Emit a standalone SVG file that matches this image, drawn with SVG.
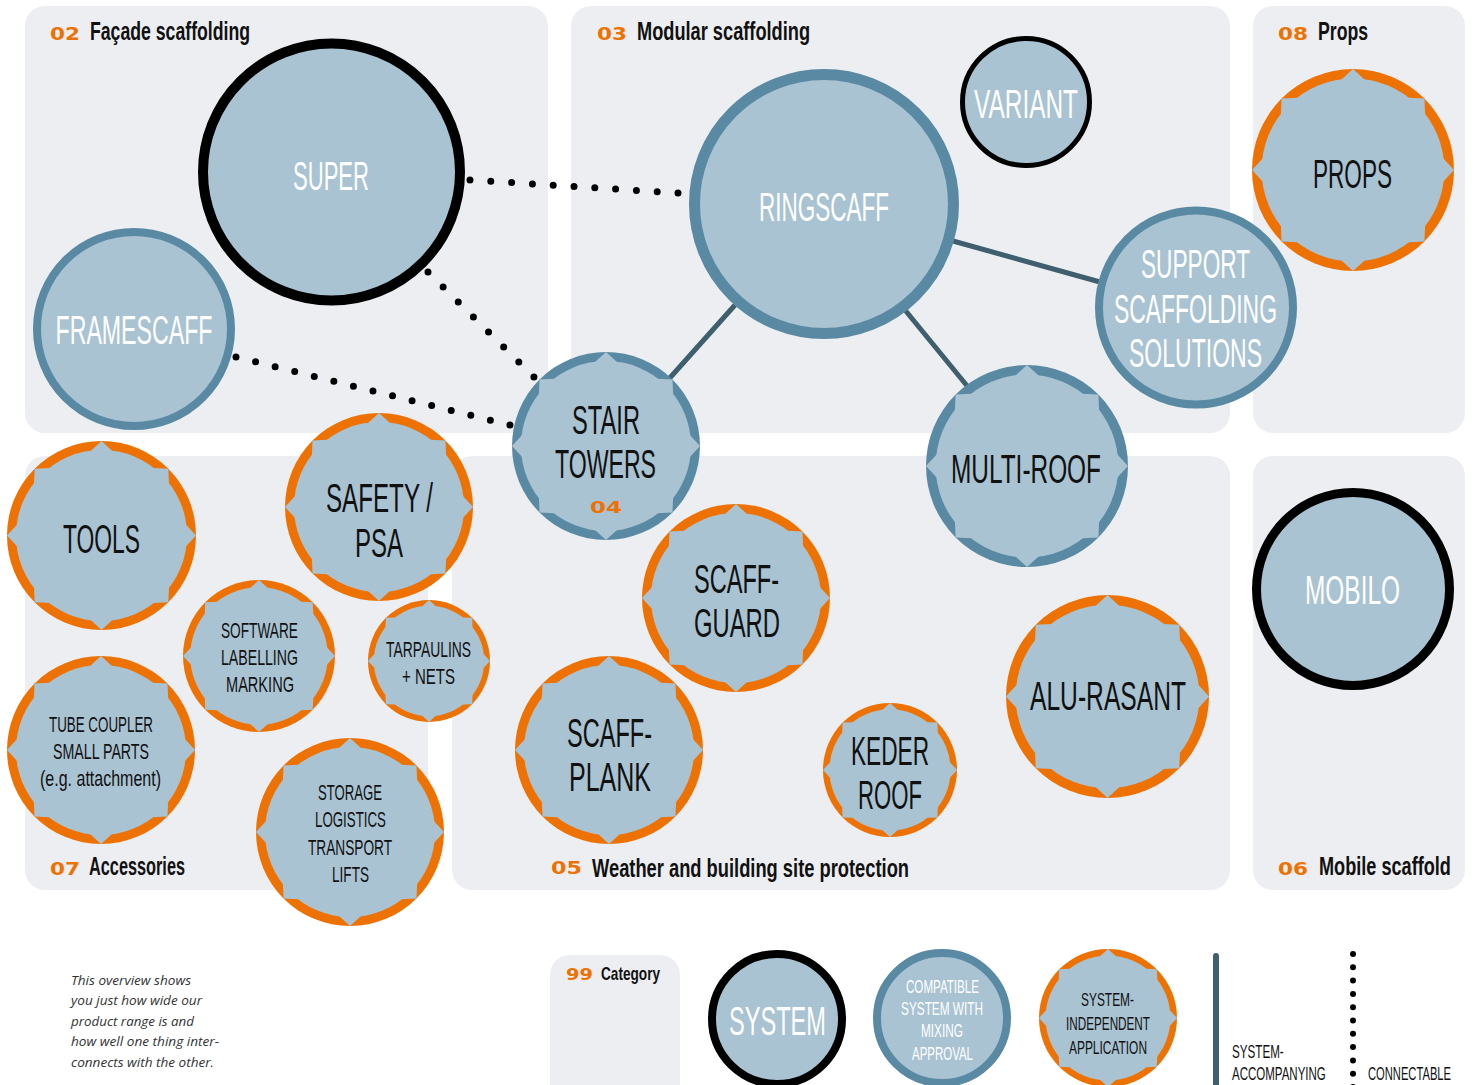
<svg xmlns="http://www.w3.org/2000/svg" xmlns:xlink="http://www.w3.org/1999/xlink" width="1475" height="1085" viewBox="0 0 1475 1085">
<style>
.panel{fill:#edeef2}
.f{fill:#a9c3d3}
.rb{fill:#a9c3d3;stroke:#5a8aa3}
.rk{fill:#a9c3d3;stroke:#000}
.t{font-family:'Liberation Sans Narrow','Liberation Sans',sans-serif;text-anchor:middle}
.w{fill:#fff}
.k{fill:#111}
.L{font-size:40px}
.M{font-size:22px}
.S{font-size:19px}
.num{font-family:'DejaVu Sans',sans-serif;font-weight:bold;fill:#ee7203;font-size:17px}
.hd{font-family:'Liberation Sans Narrow','Liberation Sans',sans-serif;font-weight:bold;fill:#111;font-size:25px}
.lg{font-family:'Liberation Sans Narrow','Liberation Sans',sans-serif;font-size:18px;fill:#111}
.dot{fill:none;stroke:#000;stroke-width:7;stroke-linecap:round}
.sol{stroke:#3f5e6e;stroke-width:5;fill:none}
</style>
<defs>
<symbol id="nO" viewBox="-100 -100 200 200" overflow="visible">
<circle r="100" fill="#ee7203"/>
<circle r="90.5" fill="#a9c3d3"/>
<g fill="#a9c3d3">
<polygon points="0,-100 -12,-89 12,-89"/>
<polygon points="0,-100 -12,-89 12,-89" transform="rotate(45)"/>
<polygon points="0,-100 -12,-89 12,-89" transform="rotate(90)"/>
<polygon points="0,-100 -12,-89 12,-89" transform="rotate(135)"/>
<polygon points="0,-100 -12,-89 12,-89" transform="rotate(180)"/>
<polygon points="0,-100 -12,-89 12,-89" transform="rotate(225)"/>
<polygon points="0,-100 -12,-89 12,-89" transform="rotate(270)"/>
<polygon points="0,-100 -12,-89 12,-89" transform="rotate(315)"/>
</g>
</symbol>
<symbol id="nB" viewBox="-100 -100 200 200" overflow="visible">
<circle r="100" fill="#5a8aa3"/>
<circle r="90.5" fill="#a9c3d3"/>
<g fill="#a9c3d3">
<polygon points="0,-100 -12,-89 12,-89"/>
<polygon points="0,-100 -12,-89 12,-89" transform="rotate(45)"/>
<polygon points="0,-100 -12,-89 12,-89" transform="rotate(90)"/>
<polygon points="0,-100 -12,-89 12,-89" transform="rotate(135)"/>
<polygon points="0,-100 -12,-89 12,-89" transform="rotate(180)"/>
<polygon points="0,-100 -12,-89 12,-89" transform="rotate(225)"/>
<polygon points="0,-100 -12,-89 12,-89" transform="rotate(270)"/>
<polygon points="0,-100 -12,-89 12,-89" transform="rotate(315)"/>
</g>
</symbol>
</defs>
<rect width="1475" height="1085" fill="#fff"/>

<g id="panels">
<rect class="panel" x="25" y="6" width="523" height="427" rx="20"/>
<rect class="panel" x="571" y="6" width="659" height="427" rx="20"/>
<rect class="panel" x="1253" y="6" width="212" height="427" rx="20"/>
<rect class="panel" x="25" y="456" width="403" height="434" rx="20"/>
<rect class="panel" x="452" y="456" width="778" height="434" rx="20"/>
<rect class="panel" x="1253" y="456" width="212" height="434" rx="20"/>
<rect class="panel" x="550" y="955" width="130" height="150" rx="20"/>
</g>

<g id="headers">
<text class="num" x="50" y="40" textLength="30" lengthAdjust="spacingAndGlyphs">02</text>
<text class="hd" x="90" y="40" textLength="160" lengthAdjust="spacingAndGlyphs">Façade scaffolding</text>
<text class="num" x="597" y="40" textLength="30" lengthAdjust="spacingAndGlyphs">03</text>
<text class="hd" x="637" y="40" textLength="173" lengthAdjust="spacingAndGlyphs">Modular scaffolding</text>
<text class="num" x="1278" y="40" textLength="30" lengthAdjust="spacingAndGlyphs">08</text>
<text class="hd" x="1318" y="40" textLength="50" lengthAdjust="spacingAndGlyphs">Props</text>
<text class="num" x="50" y="875" textLength="30" lengthAdjust="spacingAndGlyphs">07</text>
<text class="hd" x="89" y="875" textLength="96" lengthAdjust="spacingAndGlyphs">Accessories</text>
<text class="num" x="551" y="874" textLength="31" lengthAdjust="spacingAndGlyphs">05</text>
<text class="hd" x="592" y="877" textLength="317" lengthAdjust="spacingAndGlyphs">Weather and building site protection</text>
<text class="num" x="1278" y="875" textLength="30" lengthAdjust="spacingAndGlyphs">06</text>
<text class="hd" transform="translate(1319,875) scale(0.725,1)" x="0" y="0" textLength="182" lengthAdjust="spacingAndGlyphs">Mobile scaffold</text>
<text class="num" x="566" y="980" textLength="27" lengthAdjust="spacingAndGlyphs" style="font-size:15px">99</text>
<text class="hd" x="601" y="980" textLength="59" lengthAdjust="spacingAndGlyphs" style="font-size:19px">Category</text>
</g>

<g id="connectors">
<line class="dot" x1="470" y1="180" x2="678" y2="193" stroke-dasharray="0 20.84"/>
<line class="dot" x1="428" y1="272" x2="534" y2="377" stroke-dasharray="0 21.3"/>
<line class="dot" x1="236" y1="357" x2="510" y2="425" stroke-dasharray="0 20.16"/>
<line class="sol" x1="735" y1="305" x2="668" y2="380"/>
<line class="sol" x1="905" y1="310" x2="968" y2="387"/>
<line class="sol" x1="953" y1="241" x2="1100" y2="282"/>
</g>

<g id="node-super">
<circle class="rk" cx="331.5" cy="172" r="128.5" stroke-width="10"/>
<text class="t w L" x="331" y="190" textLength="76" lengthAdjust="spacingAndGlyphs">SUPER</text>
</g>
<g id="node-framescaff">
<circle class="rb" cx="134" cy="329" r="97" stroke-width="8"/>
<text class="t w L" x="134" y="344" textLength="157" lengthAdjust="spacingAndGlyphs">FRAMESCAFF</text>
</g>
<g id="node-ringscaff">
<circle class="rb" cx="824" cy="204" r="129.5" stroke-width="11"/>
<text class="t w L" x="824" y="221" textLength="130" lengthAdjust="spacingAndGlyphs">RINGSCAFF</text>
</g>
<g id="node-variant">
<circle class="rk" cx="1026" cy="102" r="63.5" stroke-width="5"/>
<text class="t w L" x="1026" y="118" textLength="104" lengthAdjust="spacingAndGlyphs">VARIANT</text>
</g>
<g id="node-support">
<circle class="rb" cx="1196" cy="307.5" r="97" stroke-width="8"/>
<text class="t w L" x="1195.5" y="278" textLength="109" lengthAdjust="spacingAndGlyphs">SUPPORT</text>
<text class="t w L" x="1195.5" y="323" textLength="163" lengthAdjust="spacingAndGlyphs">SCAFFOLDING</text>
<text class="t w L" x="1195.5" y="367" textLength="133" lengthAdjust="spacingAndGlyphs">SOLUTIONS</text>
</g>
<g id="node-props">
<use href="#nO" x="1252" y="69" width="202" height="202"/>
<text class="t k L" x="1352.5" y="188" textLength="79" lengthAdjust="spacingAndGlyphs">PROPS</text>
</g>
<g id="node-stairtowers">
<use href="#nB" x="512" y="352" width="188" height="188"/>
<text class="t k L" x="606" y="434" textLength="68" lengthAdjust="spacingAndGlyphs">STAIR</text>
<text class="t k L" x="605.5" y="478" textLength="101" lengthAdjust="spacingAndGlyphs">TOWERS</text>
<text class="num" x="590" y="513" textLength="32" lengthAdjust="spacingAndGlyphs" style="font-size:16px">04</text>
</g>
<g id="node-multiroof">
<use href="#nB" x="926" y="365" width="202" height="202"/>
<text class="t k L" x="1026" y="483" textLength="150" lengthAdjust="spacingAndGlyphs">MULTI-ROOF</text>
</g>
<g id="node-tools">
<use href="#nO" x="7" y="441" width="189" height="189"/>
<text class="t k L" x="101.5" y="553" textLength="77" lengthAdjust="spacingAndGlyphs">TOOLS</text>
</g>
<g id="node-safety">
<use href="#nO" x="285" y="413" width="188" height="188"/>
<text class="t k L" x="379.5" y="512" textLength="107" lengthAdjust="spacingAndGlyphs">SAFETY /</text>
<text class="t k L" x="379" y="557" textLength="48" lengthAdjust="spacingAndGlyphs">PSA</text>
</g>
<g id="node-software">
<use href="#nO" x="183" y="580" width="152" height="152"/>
<text class="t k M" x="259.5" y="638" textLength="77" lengthAdjust="spacingAndGlyphs">SOFTWARE</text>
<text class="t k M" x="259.5" y="665" textLength="77" lengthAdjust="spacingAndGlyphs">LABELLING</text>
<text class="t k M" x="260" y="692" textLength="68" lengthAdjust="spacingAndGlyphs">MARKING</text>
</g>
<g id="node-tarpaulins">
<use href="#nO" x="368" y="600" width="122" height="122"/>
<text class="t k M" x="428.5" y="657" textLength="85" lengthAdjust="spacingAndGlyphs">TARPAULINS</text>
<text class="t k M" x="428.5" y="684" textLength="53" lengthAdjust="spacingAndGlyphs">+ NETS</text>
</g>
<g id="node-tubecoupler">
<use href="#nO" x="7" y="656" width="188" height="188"/>
<text class="t k M" x="101" y="732" textLength="104" lengthAdjust="spacingAndGlyphs">TUBE COUPLER</text>
<text class="t k M" x="101" y="759" textLength="96" lengthAdjust="spacingAndGlyphs">SMALL PARTS</text>
<text class="t k M" x="100.5" y="786" textLength="121" lengthAdjust="spacingAndGlyphs">(e.g. attachment)</text>
</g>
<g id="node-storage">
<use href="#nO" x="256" y="738" width="188" height="188"/>
<text class="t k M" x="350" y="800" textLength="64" lengthAdjust="spacingAndGlyphs">STORAGE</text>
<text class="t k M" x="350.5" y="827" textLength="71" lengthAdjust="spacingAndGlyphs">LOGISTICS</text>
<text class="t k M" x="350" y="855" textLength="84" lengthAdjust="spacingAndGlyphs">TRANSPORT</text>
<text class="t k M" x="350.5" y="882" textLength="37" lengthAdjust="spacingAndGlyphs">LIFTS</text>
</g>
<g id="node-scaffguard">
<use href="#nO" x="642" y="504" width="188" height="188"/>
<text class="t k L" x="736.5" y="593" textLength="85" lengthAdjust="spacingAndGlyphs">SCAFF-</text>
<text class="t k L" x="737" y="637" textLength="86" lengthAdjust="spacingAndGlyphs">GUARD</text>
</g>
<g id="node-scaffplank">
<use href="#nO" x="515" y="656" width="188" height="188"/>
<text class="t k L" x="609.5" y="747" textLength="85" lengthAdjust="spacingAndGlyphs">SCAFF-</text>
<text class="t k L" x="610" y="791" textLength="82" lengthAdjust="spacingAndGlyphs">PLANK</text>
</g>
<g id="node-kederroof">
<use href="#nO" x="823" y="703" width="134" height="134"/>
<text class="t k L" x="890" y="765" textLength="78" lengthAdjust="spacingAndGlyphs">KEDER</text>
<text class="t k L" x="890" y="809" textLength="64" lengthAdjust="spacingAndGlyphs">ROOF</text>
</g>
<g id="node-alurasant">
<use href="#nO" x="1006" y="595" width="203" height="203"/>
<text class="t k L" x="1108" y="710" textLength="156" lengthAdjust="spacingAndGlyphs">ALU-RASANT</text>
</g>
<g id="node-mobilo">
<circle class="rk" cx="1353" cy="589" r="96.5" stroke-width="9"/>
<text class="t w L" x="1352.5" y="604" textLength="95" lengthAdjust="spacingAndGlyphs">MOBILO</text>
</g>

<g id="legend">
<g id="legend-system">
<circle class="rk" cx="777" cy="1019" r="65" stroke-width="8"/>
<text class="t w L" x="777.5" y="1035" textLength="97" lengthAdjust="spacingAndGlyphs">SYSTEM</text>
</g>
<g id="legend-compatible">
<circle class="rb" cx="942" cy="1018" r="65" stroke-width="8"/>
<text class="t w S" x="942.5" y="993" textLength="73" lengthAdjust="spacingAndGlyphs">COMPATIBLE</text>
<text class="t w S" x="942" y="1015" textLength="82" lengthAdjust="spacingAndGlyphs">SYSTEM WITH</text>
<text class="t w S" x="942" y="1037" textLength="42" lengthAdjust="spacingAndGlyphs">MIXING</text>
<text class="t w S" x="942.5" y="1060" textLength="61" lengthAdjust="spacingAndGlyphs">APPROVAL</text>
</g>
<g id="legend-independent">
<use href="#nO" x="1039" y="949" width="138" height="138"/>
<text class="t k S" x="1107.5" y="1006" textLength="53" lengthAdjust="spacingAndGlyphs">SYSTEM-</text>
<text class="t k S" x="1108" y="1030" textLength="84" lengthAdjust="spacingAndGlyphs">INDEPENDENT</text>
<text class="t k S" x="1108" y="1054" textLength="78" lengthAdjust="spacingAndGlyphs">APPLICATION</text>
</g>
<g id="legend-accompanying">
<line x1="1216" y1="956" x2="1216" y2="1090" stroke="#3f5e6e" stroke-width="6" stroke-linecap="round"/>
<text class="lg" transform="translate(1232,1058) scale(0.69,1)" x="0" y="0" textLength="75" lengthAdjust="spacingAndGlyphs">SYSTEM-</text>
<text class="lg" transform="translate(1232,1080) scale(0.69,1)" x="0" y="0" textLength="136" lengthAdjust="spacingAndGlyphs">ACCOMPANYING</text>
</g>
<g id="legend-connectable">
<line x1="1353" y1="954" x2="1353" y2="1090" stroke="#000" stroke-width="6" stroke-linecap="round" stroke-dasharray="0 13.3"/>
<text class="lg" transform="translate(1368,1080) scale(0.615,1)" x="0" y="0" textLength="135" lengthAdjust="spacingAndGlyphs">CONNECTABLE</text>
</g>
</g>

<g id="note" style="font-family:'Open Sans','Liberation Sans',sans-serif;font-style:italic;font-size:13.5px;fill:#333">
<text x="71" y="985" textLength="120" lengthAdjust="spacingAndGlyphs">This overview shows</text>
<text x="71" y="1005" textLength="131" lengthAdjust="spacingAndGlyphs">you just how wide our</text>
<text x="71" y="1026" textLength="123" lengthAdjust="spacingAndGlyphs">product range is and</text>
<text x="71" y="1046" textLength="148" lengthAdjust="spacingAndGlyphs">how well one thing inter-</text>
<text x="71" y="1067" textLength="143" lengthAdjust="spacingAndGlyphs">connects with the other.</text>
</g>
</svg>
